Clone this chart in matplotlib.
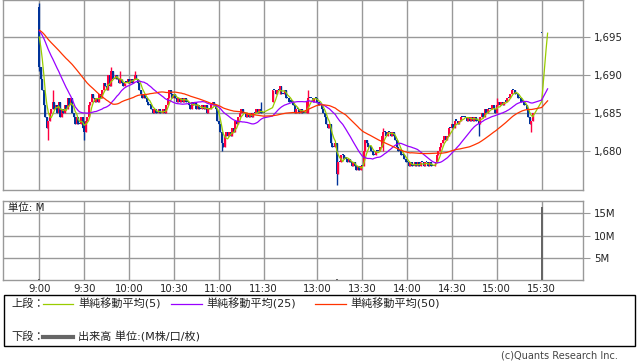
import numpy as np
import pandas as pd
import matplotlib
matplotlib.use("Agg")
import matplotlib.pyplot as plt
from matplotlib.lines import Line2D
from matplotlib.patches import Rectangle

plt.rcParams['font.family'] = ['DejaVu Sans', 'Noto Sans CJK JP']

# ---------------- data (1-minute closes) ----------------
morning_open = 1699.0
morning_closes = [
    1691, 1689.5, 1688, 1686, 1684.5, 1683, 1684, 1685, 1685.5, 1686.5,
    1685.5, 1686, 1685, 1686.5, 1684.5, 1685.5, 1685, 1686, 1685.5, 1687,
    1686, 1687, 1685, 1684.5, 1683.5, 1684.5, 1683.5, 1683.5, 1684.5, 1683,
    1682.5, 1684, 1684.5, 1686, 1686.5, 1687.5, 1687, 1686.5, 1687, 1686.5,
    1687.5, 1687, 1688, 1689, 1688.5, 1688, 1690, 1688.5, 1690.5, 1689.5,
    1689.5, 1690, 1689.5, 1689, 1689.5, 1689, 1688.5, 1689, 1689, 1689.5,
    1689, 1689.5, 1689, 1689.5, 1690, 1689.5, 1689, 1688, 1687.5, 1687,
    1687.5, 1687, 1686.5, 1686, 1686, 1685.5, 1685, 1685.5, 1685, 1685,
    1685.5, 1685, 1685, 1685.5, 1685, 1686, 1687, 1688, 1687.5, 1687,
    1687.5, 1687, 1686.5, 1687, 1686.5, 1687, 1686.5, 1687, 1686.5, 1686.5,
    1686, 1685.5, 1686.5, 1686, 1686.5, 1685.5, 1686, 1685.5, 1685.5, 1686,
    1685.5, 1686, 1685, 1685.5, 1685.5, 1686, 1686.5, 1686, 1685.5, 1684,
    1683.5, 1682.5, 1681, 1680.5, 1682, 1682.5, 1682, 1682.5, 1682, 1683,
    1682.5, 1684, 1683.5, 1684.5, 1685, 1685.5, 1685, 1685, 1684.5, 1685,
    1684.5, 1685, 1684.5, 1685, 1685, 1685.5, 1685, 1685.5, 1685, 1685, 1685,
]
afternoon_open = 1686.5
afternoon_closes = [
    1688, 1688, 1687.5, 1688, 1688, 1688.5, 1687.5, 1687.5, 1688, 1687,
    1687, 1686.5, 1686.5, 1686.5, 1686, 1685, 1685.5, 1685.5, 1685, 1685.5,
    1685, 1685, 1685, 1686.5, 1687, 1687, 1687, 1686.5, 1687, 1687,
    1686.5, 1686, 1686, 1685.5, 1685, 1684.5, 1683.5, 1683, 1683.5, 1681,
    1680.5, 1680.5, 1681, 1677, 1678.5, 1678.5, 1679.5, 1679.5, 1679, 1679,
    1678.5, 1679, 1678.5, 1678, 1678.5, 1678, 1677.5, 1678, 1677.5, 1678,
    1678, 1680, 1681.5, 1681, 1680.5, 1680.5, 1680, 1679.5, 1679.5, 1680,
    1680, 1680, 1680.5, 1682, 1682.5, 1682.5, 1682, 1682.5, 1682.5, 1682,
    1682.5, 1682, 1681.5, 1680.5, 1680, 1680, 1679.5, 1679.5, 1679, 1678.5,
    1678.5, 1678, 1678.5, 1678, 1678, 1678.5, 1678, 1678.5, 1678, 1678.5,
    1678.5, 1678, 1678.5, 1678.5, 1678, 1678.5, 1678, 1678, 1678, 1678.5,
    1679.5, 1680, 1680.5, 1681, 1681.5, 1682, 1681.5, 1682, 1683, 1683,
    1683.5, 1683, 1684, 1684, 1683.5, 1684, 1684.5, 1684.5, 1684.5, 1684.5,
    1684, 1684.5, 1684, 1684.5, 1684, 1684.5, 1684, 1684, 1683.5, 1684.5,
    1685, 1684.5, 1685.5, 1685, 1685.5, 1685.5, 1685.5, 1686, 1685.5, 1685,
    1686, 1686.5, 1686, 1686.5, 1686, 1686.5, 1686.5, 1687, 1687, 1687.5,
    1688, 1688, 1687.5, 1687.5, 1687, 1687, 1686.5, 1686.5, 1686, 1686,
    1685.5, 1684.5, 1683.5, 1684, 1685,
]
auction_close = 1695.5
auction_slots = 5
prev_day_close = 1696.0

wick_pos = [0, 6, 9, 30, 48, 54, 64, 122, 148, 161, 180, 199, 230, 239, 294, 306, 329]
wick_high = [1699.5, 1684, 1688, 1684, 1691, 1690.5, 1690.5, 1682.5, 1686.5, 1688.5,
             1688, 1680.5, 1683, 1681.5, 1684.5, 1687, 1684]
wick_low = [1690.5, 1681.5, 1685.5, 1681.5, 1689.5, 1689, 1689.5, 1680, 1685, 1687.5,
            1685, 1675.5, 1680, 1680.5, 1682, 1685, 1682.5]

vol_pos = [0, 199, 336]
vol_vals = [0.2, 0.15, 16.4]

tick_pos = [0, 30, 60, 90, 120, 150, 186, 216, 246, 276, 306, 336]
tick_labels = ["9:00", "9:30", "10:00", "10:30", "11:00", "11:30",
               "13:00", "13:30", "14:00", "14:30", "15:00", "15:30"]
price_ticks = [1680, 1685, 1690, 1695]
vol_ticks = [5, 10, 15]
vol_tick_labels = ["5M", "10M", "15M"]
ma_windows = [5, 25, 50]
ma_labels = ["単純移動平均(5)", "単純移動平均(25)", "単純移動平均(50)"]

# ---------------- styling ----------------
W, H = 638, 362
UP = "#ff0040"
DOWN = "#003399"
MA_COLORS = ["#99cc00", "#9900ff", "#ff3300"]
GRID = "#999999"
VOLC = "#666666"

def fx(x):
    return x / W

def fy(y):
    return 1 - y / H

# positions
m_pos = np.arange(len(morning_closes))
a_pos = 156 + np.arange(len(afternoon_closes))
au_pos = 336 + np.arange(auction_slots)

pos = np.concatenate([m_pos, a_pos])
closes = np.array(morning_closes + afternoon_closes, dtype=float)
opens = np.concatenate([[morning_open], closes[:-1]])
opens[len(morning_closes)] = afternoon_open
highs = np.maximum(opens, closes)
lows = np.minimum(opens, closes)
for p, h, l in zip(wick_pos, wick_high, wick_low):
    i = int(np.where(pos == p)[0][0])
    highs[i] = max(highs[i], h)
    lows[i] = min(lows[i], l)

# moving averages (seeded with previous day's close)
ma_pos = np.concatenate([pos, au_pos])
ma_src = pd.Series(np.concatenate([np.full(max(ma_windows) - 1, prev_day_close),
                                   closes, np.full(auction_slots, auction_close)]))

fig = plt.figure(figsize=(W / 100, H / 100), dpi=100)
fig.patch.set_facecolor("white")

XL = ((3 - 39.3) / 1.495, (583 - 39.3) / 1.495)

# ---- price panel ----
ax = fig.add_axes([fx(3), fy(190), fx(583) - fx(3), fy(0) - fy(190)])
ax.set_xlim(*XL)
ax.set_ylim(1674.87, 1699.87)
for s in ax.spines.values():
    s.set_color(GRID)
    s.set_linewidth(1)
ax.set_xticks(tick_pos)
ax.set_yticks(price_ticks)
ax.set_yticklabels([f"{v:,}" for v in price_ticks])
ax.yaxis.tick_right()
ax.tick_params(axis='y', length=5, color=GRID, labelsize=7.3, pad=3, labelcolor="#222222")
ax.tick_params(axis='x', length=0, labelbottom=False)
ax.grid(True, color=GRID, lw=1)
ax.set_axisbelow(True)

colors = [UP if c > o else DOWN for o, c in zip(opens, closes)]
body_h = np.maximum(np.abs(closes - opens), 0.15)
body_b = np.minimum(opens, closes)
ax.vlines(pos, lows, highs, colors=colors, lw=1.0, zorder=2)
ax.bar(pos, body_h, bottom=body_b, width=1.3, color=colors, linewidth=0, zorder=3)
# closing auction print
ax.bar([au_pos[0]], [0.15], bottom=[auction_close], width=1.0, color=DOWN, linewidth=0, zorder=3)

for w, c in zip(ma_windows, MA_COLORS):
    ma = ma_src.rolling(w).mean().to_numpy()[max(ma_windows) - 1:]
    ax.plot(ma_pos, ma, color=c, lw=0.9, zorder=4)

# ---- volume panel ----
av = fig.add_axes([fx(3), fy(280), fx(583) - fx(3), fy(201) - fy(280)])
av.set_xlim(*XL)
av.set_ylim(0, 17.8)
for s in av.spines.values():
    s.set_color(GRID)
    s.set_linewidth(1)
av.set_xticks(tick_pos)
av.set_xticklabels(tick_labels)
av.set_yticks(vol_ticks)
av.set_yticklabels(vol_tick_labels)
av.yaxis.tick_right()
av.tick_params(axis='y', length=5, color=GRID, labelsize=7.3, pad=3, labelcolor="#222222")
av.tick_params(axis='x', length=0, labelsize=7.3, pad=3, labelcolor="#222222")
av.grid(True, color=GRID, lw=1)
av.set_axisbelow(True)
av.bar(vol_pos, vol_vals, width=1.4, color=VOLC, linewidth=0, zorder=3)
fig.text(fx(8), fy(208), "単位: M", fontsize=7.5, va="center", ha="left", color="#222222")

# ---- legend box ----
fig.patches.append(Rectangle((fx(3.5), fy(345.5)), fx(634.5) - fx(3.5), fy(294.5) - fy(345.5),
                             transform=fig.transFigure, fill=False, ec="black", lw=1))
fig.text(fx(11), fy(303.5), "上段：", fontsize=8, va="center", ha="left", color="#222222")
seg = [(43, 73, 78), (171, 202, 206), (315, 346, 350)]
for (x0, x1, xt), c, lab in zip(seg, MA_COLORS, ma_labels):
    fig.lines.append(Line2D([fx(x0), fx(x1)], [fy(303.5), fy(303.5)], transform=fig.transFigure,
                            color=c, lw=0.9))
    fig.text(fx(xt), fy(303.5), lab, fontsize=8, va="center", ha="left", color="#222222")
fig.text(fx(11), fy(336.5), "下段：", fontsize=8, va="center", ha="left", color="#222222")
fig.lines.append(Line2D([fx(43), fx(73)], [fy(336.5), fy(336.5)], transform=fig.transFigure,
                        color=VOLC, lw=3))
fig.text(fx(78), fy(336.5), "出来高 単位:(M株/口/枚)", fontsize=8, va="center", ha="left", color="#222222")

fig.text(fx(618), fy(356), "(c)Quants Research Inc.", fontsize=7, va="center", ha="right", color="#444444")

fig.savefig("out.png", dpi=100)
